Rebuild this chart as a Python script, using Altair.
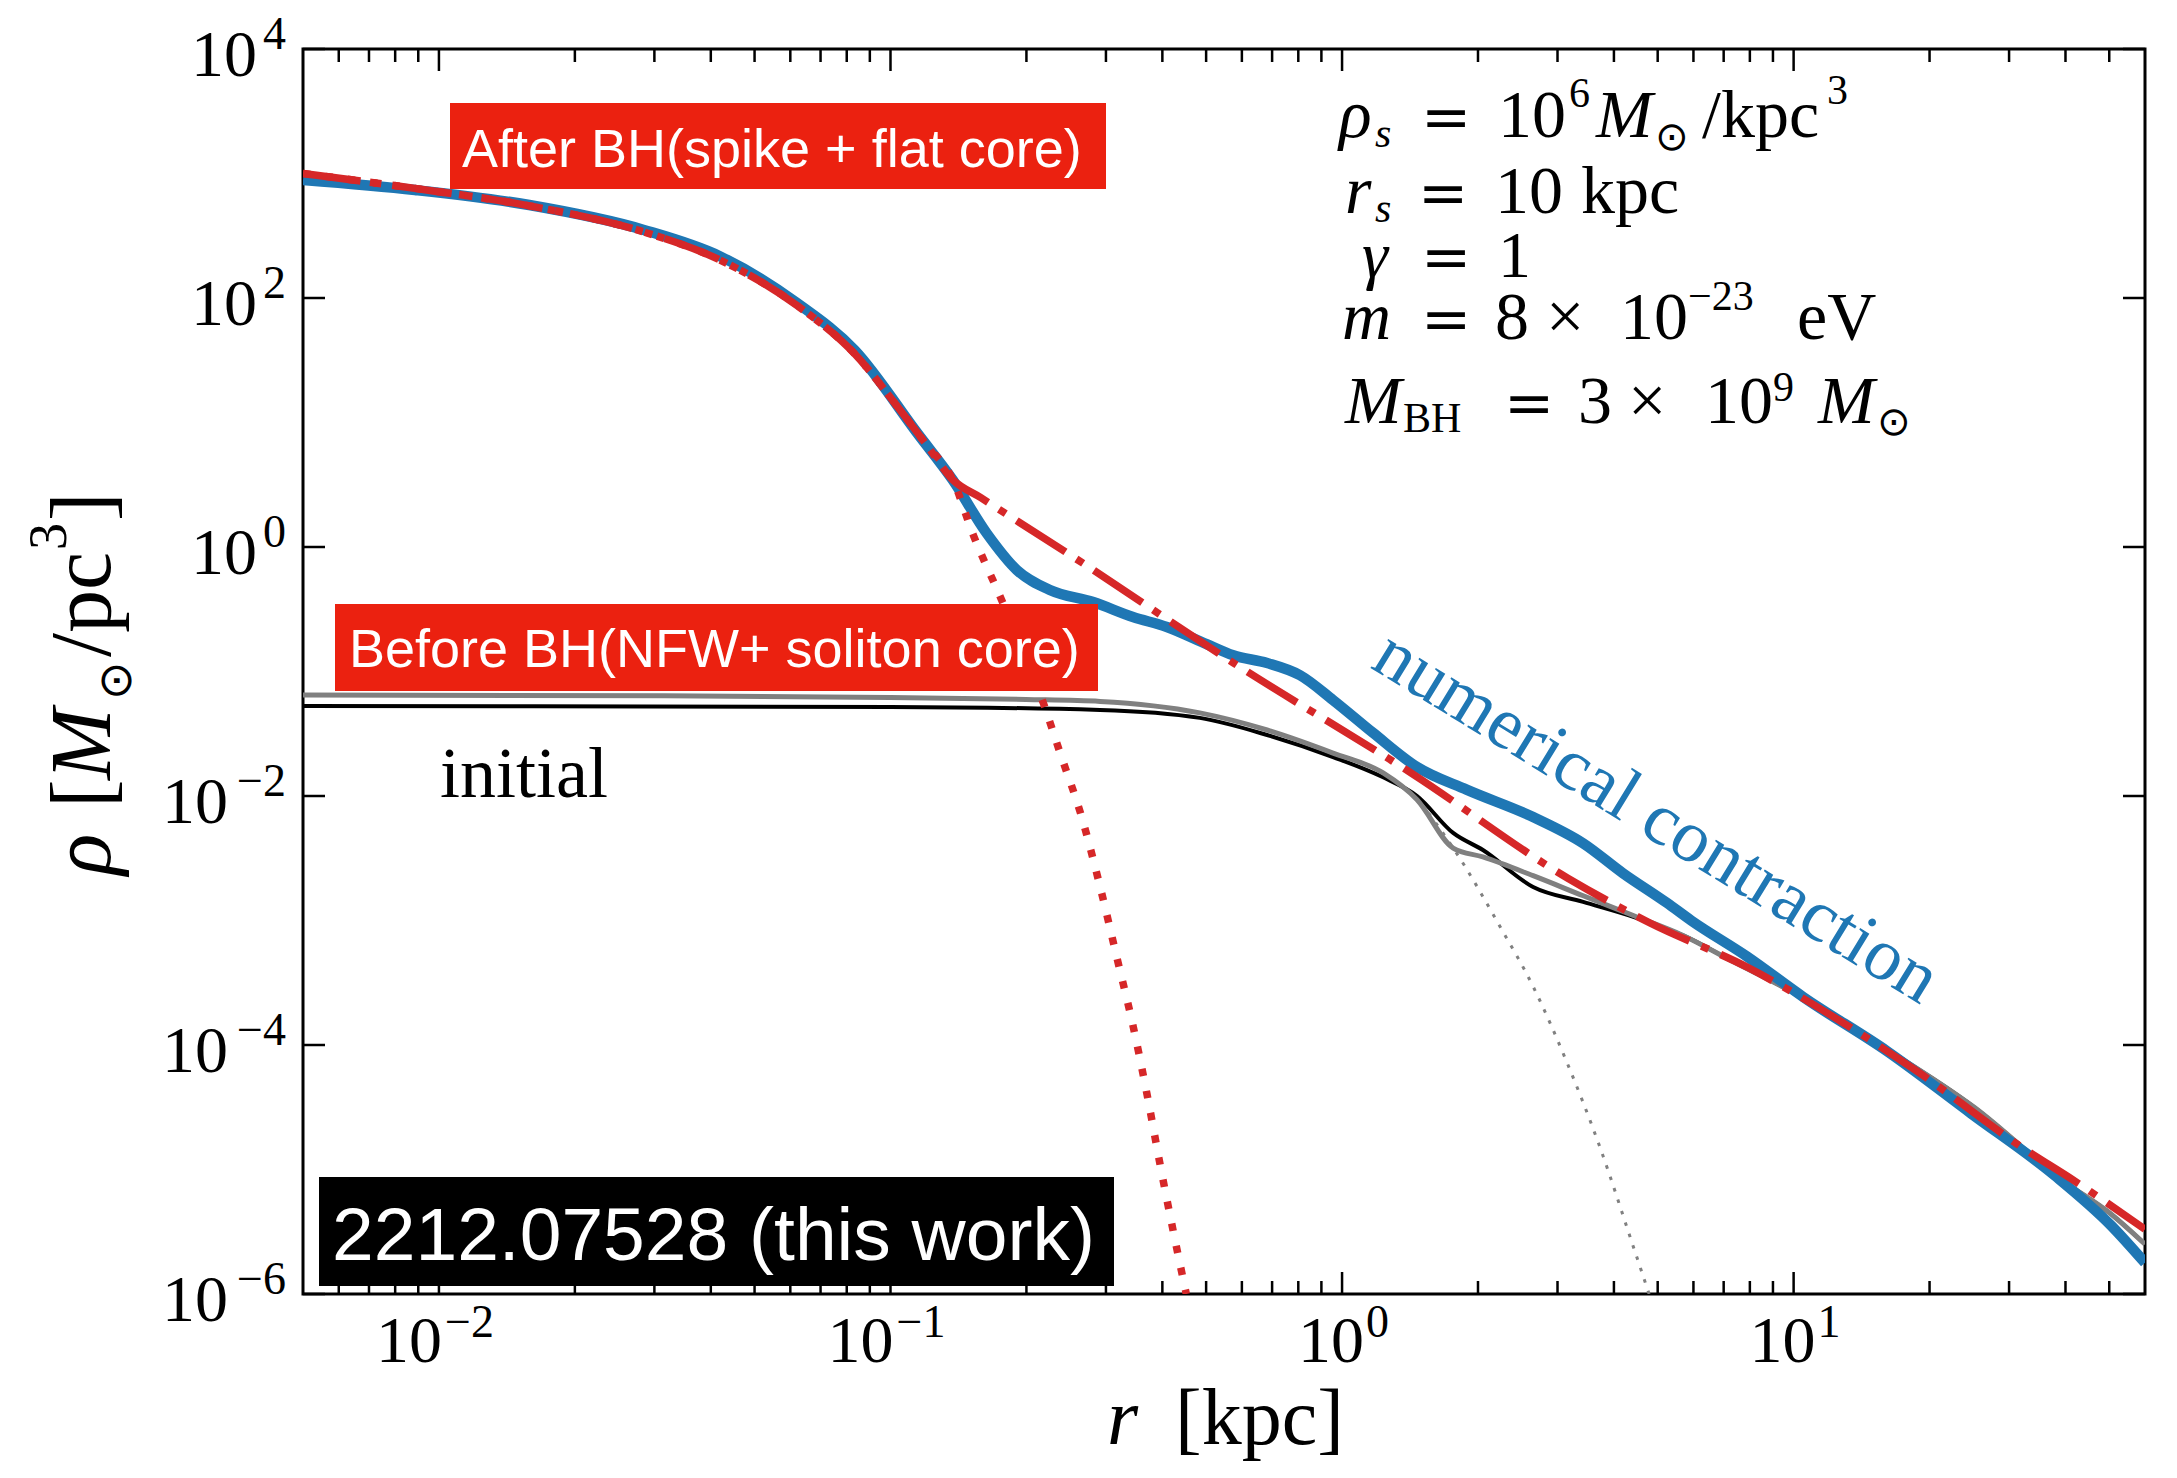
import altair as alt
import pandas as pd

# ---------------- data ----------------
# numerical contraction (blue)
numerical_r = [0.005, 0.00885, 0.01585, 0.02844, 0.04217, 0.06209, 0.08337, 0.1146, 0.1374, 0.1633,
               0.1905, 0.2254, 0.2812, 0.3443, 0.4093, 0.5012, 0.5741, 0.6823, 0.8072, 0.955,
               1.172, 1.466, 1.892, 2.649, 3.420, 4.188, 5.248, 5.929, 7.889, 10.50,
               16.11, 24.72, 37.93, 50.47, 60.0]
numerical_rho = [887, 736, 558, 352, 214, 91.2, 38.0, 8.24, 3.45, 1.29,
                 0.653, 0.452, 0.361, 0.274, 0.228, 0.166, 0.135, 0.117, 0.0933, 0.0590,
                 0.0321, 0.0171, 0.0112, 0.00678, 0.00417, 0.00240, 0.00138, 0.00100, 5.13e-4, 2.43e-4,
                 8.91e-5, 2.82e-5, 8.91e-6, 3.55e-6, 1.78e-6]

# after BH: spike + flat core (red dash-dot)
spike_r = [0.005, 0.00885, 0.01585, 0.02844, 0.04217, 0.06209, 0.08337, 0.1050, 0.1202, 0.1374,
           0.1585, 0.2667, 0.5741, 1.429, 3.162, 4.808, 7.943, 12.59, 18.58, 32.89, 41.40, 60.0]
spike_rho = [1000, 759, 550, 339, 200, 87.1, 35.5, 12.6, 6.61, 3.47,
             2.49, 0.741, 0.1175, 0.01514, 0.002188, 9.55e-4, 4.17e-4, 1.585e-4, 6.31e-5, 1.413e-5, 8.32e-6, 3.31e-6]

# after BH: soliton (red dotted)
sol_after_r = [0.005, 0.00885, 0.01585, 0.02844, 0.04217, 0.06209, 0.08337, 0.1050, 0.1202, 0.1374,
               0.1524, 0.1774, 0.2198, 0.2371, 0.2655, 0.2911, 0.3170, 0.3443, 0.3698, 0.3954, 0.4227, 0.4519]
sol_after_rho = [1000, 759, 550, 339, 200, 87.1, 35.5, 12.6, 6.61, 3.47,
                 1.259, 0.355, 0.0513, 0.02254, 0.006653, 0.001875, 5.09e-4, 1.435e-4, 4.04e-5, 1.096e-5, 3.21e-6, 1.0e-6]

# before BH: NFW + soliton core (gray solid)
init_an_r = [0.005, 0.0316, 0.1, 0.1995, 0.2911, 0.4842, 0.6823, 0.955, 1.233, 1.466,
             1.762, 2.051, 2.649, 3.420, 4.416, 5.689, 7.345, 10.0, 15.85, 25.12, 39.81, 50.12, 60.0]
init_an_rho = [0.0647, 0.0638, 0.0617, 0.0596, 0.0575, 0.0465, 0.0339, 0.02213, 0.01531, 0.00933,
               0.00382, 0.00324, 0.00229, 0.00158, 0.001096, 7.59e-4, 4.68e-4, 2.63e-4, 9.55e-5, 3.16e-5, 7.94e-6, 4.47e-6, 2.51e-6]

# initial numerical profile (black)
init_num_r = [0.005, 0.1, 0.2911, 0.4842, 0.6823, 0.955, 1.233, 1.466, 1.762, 2.051,
              2.649, 3.420, 4.416, 5.689, 7.345, 10.0, 15.85, 25.12, 39.81, 50.12, 60.0]
init_num_rho = [0.0528, 0.0519, 0.0491, 0.0424, 0.0309, 0.02056, 0.01413, 0.0100, 0.00505, 0.00368,
                0.00186, 0.00141, 0.00107, 7.59e-4, 4.68e-4, 2.63e-4, 9.55e-5, 3.16e-5, 7.94e-6, 4.47e-6, 2.51e-6]

# initial soliton (gray dotted)
sol_init_r = [0.005, 0.0316, 0.1, 0.1995, 0.2911, 0.4842, 0.6823, 0.955, 1.233, 1.466,
              1.762, 2.239, 2.649, 3.148, 3.724, 4.416, 4.786]
sol_init_rho = [0.0647, 0.0638, 0.0617, 0.0596, 0.0575, 0.0465, 0.0339, 0.02213, 0.01531, 0.00933,
                0.00382, 8.91e-4, 2.95e-4, 7.24e-5, 1.514e-5, 2.40e-6, 1.0e-6]

# axes
x_major = [0.01, 0.1, 1, 10]
x_major_exp = ["−2", "−1", "0", "1"]
x_minor = [0.006, 0.007, 0.008, 0.009,
           0.02, 0.03, 0.04, 0.05, 0.06, 0.07, 0.08, 0.09,
           0.2, 0.3, 0.4, 0.5, 0.6, 0.7, 0.8, 0.9,
           2, 3, 4, 5, 6, 7, 8, 9,
           20, 30, 40, 50]
y_major = [1e4, 1e2, 1, 1e-2, 1e-4, 1e-6]
y_major_exp = ["4", "2", "0", "−2", "−4", "−6"]

# ---------------- styling ----------------
W, H = 1842, 1245
SERIF = "Liberation Serif"
SANS = "Liberation Sans"
SYM = "DejaVu Sans"
EQ = "DejaVu Serif"
BLUE = "#1f77b4"
RED = "#d62728"
GRAY = "#808080"
BOX_RED = "#eb2110"

xs = alt.Scale(type="log", domain=[0.005, 60])
ys = alt.Scale(type="log", domain=[1e-6, 1e4])
one = pd.DataFrame({"k": [0]})


def curve(r, rho, color, width, dash=None):
    df = pd.DataFrame({"r": r, "rho": rho})
    kw = dict(color=color, strokeWidth=width, clip=True, interpolate="monotone", strokeJoin="round")
    if dash:
        kw["strokeDash"] = dash
    return alt.Chart(df).mark_line(**kw).encode(
        x=alt.X("r:Q", scale=xs, axis=None),
        y=alt.Y("rho:Q", scale=ys, axis=None),
    )


def txt(text, px, py, size, italic=False, font=SERIF, color="black", align="left", angle=0):
    kw = dict(text=text, fontSize=size, font=font, color=color, align=align, baseline="alphabetic")
    if italic:
        kw["fontStyle"] = "italic"
    if angle:
        kw["angle"] = angle
    return alt.Chart(one).mark_text(**kw).encode(x=alt.value(px), y=alt.value(py))


def box(x1, x2, y1, y2, color):
    return alt.Chart(one).mark_rect(color=color).encode(
        x=alt.value(x1), x2=alt.value(x2), y=alt.value(y1), y2=alt.value(y2))


layers = [
    curve(init_num_r, init_num_rho, "black", 4),
    curve(init_an_r, init_an_rho, GRAY, 5),
    curve(sol_init_r, sol_init_rho, GRAY, 3, [3.5, 8.5]),
    curve(numerical_r, numerical_rho, BLUE, 10.5),
    curve(sol_after_r, sol_after_rho, RED, 7.5, [7.5, 15]),
    curve(spike_r, spike_rho, RED, 7.5, [58, 13, 8, 13]),
]


# ticks (inward, on all four sides)
def xticks(vals, length):
    df = pd.DataFrame({"v": vals})
    base = alt.Chart(df).mark_rule(color="black", strokeWidth=2.5)
    xe = alt.X("v:Q", scale=xs, axis=None)
    return [base.encode(x=xe, y=alt.value(0), y2=alt.value(length)),
            base.encode(x=xe, y=alt.value(H), y2=alt.value(H - length))]


def yticks(vals, length):
    df = pd.DataFrame({"v": vals})
    base = alt.Chart(df).mark_rule(color="black", strokeWidth=2.5)
    ye = alt.Y("v:Q", scale=ys, axis=None)
    return [base.encode(y=ye, x=alt.value(0), x2=alt.value(length)),
            base.encode(y=ye, x=alt.value(W), x2=alt.value(W - length))]


layers += xticks(x_major, 22) + xticks(x_minor, 13) + yticks(y_major, 22)

# tick labels as 10 with raised exponent
xl = pd.DataFrame({"v": x_major, "e": x_major_exp})
yl = pd.DataFrame({"v": y_major, "e": y_major_exp})
xneg, xpos = xl[xl.e.str.startswith("−")], xl[~xl.e.str.startswith("−")]
yneg, ypos = yl[yl.e.str.startswith("−")], yl[~yl.e.str.startswith("−")]

for d, dx10, dxe in [(xneg, 3, 6), (xpos, 22, 24)]:
    xe = alt.X("v:Q", scale=xs, axis=None)
    layers.append(alt.Chart(d).mark_text(text="10", font=SERIF, fontSize=66, align="right",
                                         baseline="alphabetic", dx=dx10).encode(x=xe, y=alt.value(1313)))
    layers.append(alt.Chart(d).mark_text(font=SERIF, fontSize=46, align="left",
                                         baseline="alphabetic", dx=dxe).encode(x=xe, y=alt.value(1288), text="e:N"))

for d, x10 in [(yneg, -75), (ypos, -46)]:
    ye = alt.Y("v:Q", scale=ys, axis=None)
    layers.append(alt.Chart(d).mark_text(text="10", font=SERIF, fontSize=66, align="right",
                                         baseline="alphabetic", dy=27).encode(x=alt.value(x10), y=ye))
    layers.append(alt.Chart(d).mark_text(font=SERIF, fontSize=46, align="right",
                                         baseline="alphabetic").encode(x=alt.value(-17), y=ye, text="e:N"))

# axis titles
layers += [
    txt("r", 804, 1395, 80, italic=True),
    txt("[kpc]", 872, 1395, 80),
    txt("ρ", -193, 826, 86, italic=True, angle=270),
    txt("[", -193, 759, 86, angle=270),
    txt("M", -193, 731, 86, italic=True, angle=270),
    txt("⊙", -172, 651, 46, font=SYM, angle=270),
    txt("/pc", -193, 608, 86, angle=270),
    txt("3", -237, 501, 54, angle=270),
    txt("]", -193, 472, 86, angle=270),
]

# annotation boxes
layers += [
    box(147, 803, 54, 140, BOX_RED),
    txt("After BH(spike + flat core)", 159, 118, 54, font=SANS, color="white"),
    box(32, 795, 555, 642, BOX_RED),
    txt("Before BH(NFW+ soliton core)", 46, 618, 54, font=SANS, color="white"),
    box(16, 811, 1128, 1237, "black"),
    txt("2212.07528 (this work)", 29, 1211, 75, font=SANS, color="white"),
]

# other labels
layers += [
    txt("initial", 137, 748, 72),
    txt("numerical contraction", 1342, 787, 74, color=BLUE, align="center", angle=31.5),
]

# parameter block  (text, x, baseline y, size, italic)
params = [
    ("ρ", 1036, 88, 68, True), ("s", 1072, 98, 42, True),
    ("10", 1195, 88, 68, False), ("6", 1266, 58, 42, False), ("M", 1293, 88, 68, True),
    ("/kpc", 1399, 88, 68, False), ("3", 1524, 55, 42, False),
    ("r", 1042, 164, 68, True), ("s", 1072, 173, 42, True),
    ("10", 1192, 164, 68, False), ("kpc", 1278, 164, 68, False),
    ("γ", 1059, 228, 66, True), ("1", 1195, 228, 66, False),
    ("m", 1039, 290, 68, True), ("8", 1192, 290, 68, False),
    ("×", 1243, 290, 68, False), ("10", 1317, 290, 68, False), ("−23", 1385, 261, 42, False),
    ("eV", 1494, 290, 68, False),
    ("M", 1042, 374, 68, True), ("BH", 1100, 383, 42, False),
    ("3", 1275, 374, 68, False), ("×", 1325, 374, 68, False), ("10", 1402, 374, 68, False),
    ("9", 1470, 352, 42, False), ("M", 1515, 374, 68, True),
]
for t, px, py, s, it in params:
    layers.append(txt(t, px, py, s, italic=it))
for px, py in [(1118, 88), (1115, 164), (1118, 228), (1118, 290), (1201, 374)]:
    layers.append(txt("=", px, py, 60, font=EQ))
layers.append(txt("⊙", 1352, 101, 40, font=SYM))
layers.append(txt("⊙", 1574, 386, 40, font=SYM))

chart = alt.layer(*layers).properties(
    width=W,
    height=H,
    autosize=alt.AutoSizeParams(type="none"),
    padding={"left": 295, "top": 41, "right": 24, "bottom": 172},
).configure_view(stroke="black", strokeWidth=3)

chart.save("out.html", embed_options={"renderer": "svg", "actions": False})
